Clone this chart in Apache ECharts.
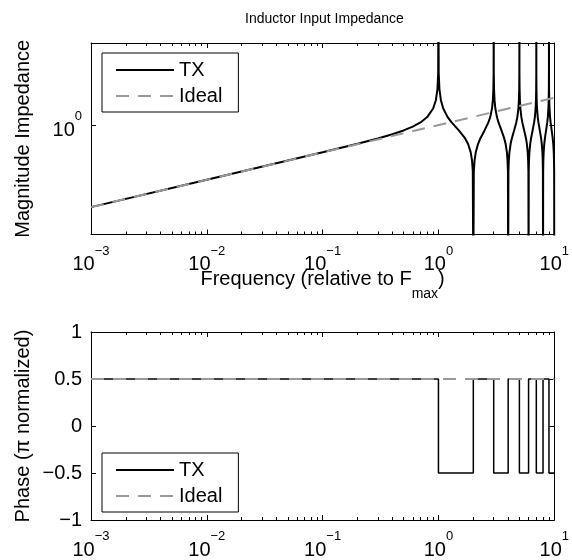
<!DOCTYPE html>
<html><head><meta charset="utf-8">
<script src="https://cdn.jsdelivr.net/npm/echarts@6/dist/echarts.min.js"></script>
<style>html,body{margin:0;padding:0;background:#fff}#c{width:572px;height:560px}</style>
</head><body><div id="c"></div>
<script>
// ---- data ----
const freqTX = [
  0.001, 0.01, 0.1, 0.2, 0.3, 0.4, 0.5, 0.6, 0.7, 0.8, 0.9, 0.95, 0.98, 0.995, 1,
  1.005, 1.02, 1.05, 1.1, 1.2, 1.3, 1.5, 1.7, 1.8, 1.9, 1.95, 1.98, 2,
  2.02, 2.05, 2.1, 2.2, 2.3, 2.5, 2.7, 2.8, 2.9, 2.95, 2.98, 2.995, 3,
  3.005, 3.02, 3.05, 3.1, 3.2, 3.3, 3.5, 3.7, 3.8, 3.9, 3.95, 3.98, 4,
  4.02, 4.05, 4.1, 4.2, 4.3, 4.5, 4.7, 4.8, 4.9, 4.95, 4.98, 4.995, 5,
  5.005, 5.02, 5.05, 5.1, 5.2, 5.3, 5.5, 5.7, 5.8, 5.9, 5.95, 5.98, 6,
  6.02, 6.05, 6.1, 6.2, 6.3, 6.5, 6.7, 6.8, 6.9, 6.95, 6.98, 6.995, 7,
  7.005, 7.02, 7.05, 7.1, 7.2, 7.3, 7.5, 7.7, 7.8, 7.9, 7.95, 7.98, 8,
  8.02, 8.05, 8.1, 8.2, 8.3, 8.5, 8.7, 8.8, 8.9, 8.95, 8.98, 8.995, 9,
  9.005, 9.02, 9.05, 9.1, 9.2, 9.3, 9.5, 9.7, 9.8, 9.9, 9.95, 9.98, 10
];
const magTX = [
  0.001, 0.01, 0.1008, 0.2069, 0.3244, 0.4625, 0.6366, 0.8762, 1.249, 1.959, 4.021, 8.09, 20.26, 81.05, 1e6,
  81.05, 20.26, 8.09, 4.021, 1.959, 1.249, 0.6366, 0.3244, 0.2069, 0.1008, 0.0501, 0.02, 1e-6,
  0.02, 0.0501, 0.1008, 0.2069, 0.3244, 0.6366, 1.249, 1.959, 4.021, 8.09, 20.26, 81.05, 1e6,
  81.05, 20.26, 8.09, 4.021, 1.959, 1.249, 0.6366, 0.3244, 0.2069, 0.1008, 0.0501, 0.02, 1e-6,
  0.02, 0.0501, 0.1008, 0.2069, 0.3244, 0.6366, 1.249, 1.959, 4.021, 8.09, 20.26, 81.05, 1e6,
  81.05, 20.26, 8.09, 4.021, 1.959, 1.249, 0.6366, 0.3244, 0.2069, 0.1008, 0.0501, 0.02, 1e-6,
  0.02, 0.0501, 0.1008, 0.2069, 0.3244, 0.6366, 1.249, 1.959, 4.021, 8.09, 20.26, 81.05, 1e6,
  81.05, 20.26, 8.09, 4.021, 1.959, 1.249, 0.6366, 0.3244, 0.2069, 0.1008, 0.0501, 0.02, 1e-6,
  0.02, 0.0501, 0.1008, 0.2069, 0.3244, 0.6366, 1.249, 1.959, 4.021, 8.09, 20.26, 81.05, 1e6,
  81.05, 20.26, 8.09, 4.021, 1.959, 1.249, 0.6366, 0.3244, 0.2069, 0.1008, 0.0501, 0.02, 1e-6
];
const freqIdeal = [0.001, 10];
const magIdeal = [0.001, 10];

const phaseFreq = [0.001, 1, 1, 2, 2, 3, 3, 4, 4, 5, 5, 6, 6, 7, 7, 8, 8, 9, 9, 10];
const phaseTX = [0.5, 0.5, -0.5, -0.5, 0.5, 0.5, -0.5, -0.5, 0.5, 0.5, -0.5, -0.5, 0.5, 0.5, -0.5, -0.5, 0.5, 0.5, -0.5, -0.5];
const phaseIdealFreq = [0.001, 10];
const phaseIdeal = [0.5, 0.5];

const xMajorTicks = [0.001, 0.01, 0.1, 1, 10];
const xMinorTicks = [0.002, 0.003, 0.004, 0.005, 0.006, 0.007, 0.008, 0.009,
  0.02, 0.03, 0.04, 0.05, 0.06, 0.07, 0.08, 0.09,
  0.2, 0.3, 0.4, 0.5, 0.6, 0.7, 0.8, 0.9,
  2, 3, 4, 5, 6, 7, 8, 9];
const magTicks = [1];
const magRange = [1e-4, 1e3];
const phaseRange = [-1, 1];

// ---- chart ----
const FONT = '"Liberation Sans", Arial, Helvetica, sans-serif';
const zip = (a, b) => a.map((v, i) => [v, b[i]]);
const lg = v => Math.log10(v);
const minus = s => String(s).replace('-', '\u2212');
const powLabel = v => '{b|10}{s|' + minus(Math.round(v)) + '}';
const powRich = {
  b: { fontSize: 20, lineHeight: 30, verticalAlign: 'bottom', fontFamily: FONT, color: '#000' },
  s: { fontSize: 13, lineHeight: 13, verticalAlign: 'top', fontFamily: FONT, color: '#000' }
};
const black = { color: '#000', width: 1 };
const noLine = { show: false, onZero: false };
const boxLine = { show: true, onZero: false, lineStyle: black };

function xAxesFor(g, withName) {
  const lo = lg(xMajorTicks[0]), hi = lg(xMajorTicks[xMajorTicks.length - 1]);
  const ov = { type: 'value', gridIndex: g, min: lo, max: hi, splitLine: { show: false } };
  return [
    { type: 'log', logBase: 10, gridIndex: g, min: xMajorTicks[0], max: xMajorTicks[xMajorTicks.length - 1], show: false,
      axisLine: noLine },
    Object.assign({}, ov, {
      position: 'bottom',
      axisLine: boxLine,
      axisTick: { show: true, inside: true, length: 5, customValues: xMajorTicks.map(lg), lineStyle: black },
      axisLabel: { show: true, customValues: xMajorTicks.map(lg), formatter: powLabel, rich: powRich, margin: 10 },
      name: withName ? '{m|Frequency (relative to F}{sub|max}{m|)}' : '',
      nameLocation: 'middle', nameGap: 35, nameMoveOverlap: false,
      nameTextStyle: {
        rich: {
          m: { fontSize: 20, lineHeight: 20, verticalAlign: 'top', fontFamily: FONT, color: '#000' },
          sub: { fontSize: 14, lineHeight: 50, verticalAlign: 'middle', fontFamily: FONT, color: '#000' }
        }
      }
    }),
    Object.assign({}, ov, {
      position: 'bottom', axisLine: noLine,
      axisTick: { show: true, inside: true, length: 3, customValues: xMinorTicks.map(lg), lineStyle: black },
      axisLabel: { show: false }
    }),
    Object.assign({}, ov, {
      position: 'top',
      axisLine: boxLine,
      axisTick: { show: true, inside: true, length: 5, customValues: xMajorTicks.map(lg), lineStyle: black },
      axisLabel: { show: false }
    }),
    Object.assign({}, ov, {
      position: 'top', axisLine: noLine,
      axisTick: { show: true, inside: true, length: 3, customValues: xMinorTicks.map(lg), lineStyle: black },
      axisLabel: { show: false }
    })
  ];
}

const legendBase = {
  orient: 'vertical', left: 102, itemWidth: 58, itemHeight: 14, itemGap: 6,
  padding: [7, 16, 6, 13], borderColor: '#000', borderWidth: 1, borderRadius: 0,
  backgroundColor: '#fff', data: ['TX', 'Ideal'], selectedMode: false,
  itemStyle: { opacity: 0, borderWidth: 0 },
  textStyle: { fontSize: 20, color: '#000', fontFamily: FONT }
};

const option = {
  animation: false,
  backgroundColor: '#fff',
  textStyle: { fontFamily: FONT },
  title: {
    text: 'Inductor Input Impedance', left: 324.5, top: 12, padding: 0, textAlign: 'center',
    textStyle: { fontSize: 14, fontWeight: 'normal', color: '#000', fontFamily: FONT }
  },
  legend: [
    Object.assign({}, legendBase, { top: 53 }),
    Object.assign({}, legendBase, { top: 453 })
  ],
  grid: [
    { left: 91, right: 14, top: 43, height: 191.5 },
    { left: 91, right: 14, top: 332, height: 191.5 }
  ],
  xAxis: xAxesFor(0, true).concat(xAxesFor(1, false)),
  yAxis: [
    { type: 'log', logBase: 10, gridIndex: 0, min: magRange[0], max: magRange[1], show: false, axisLine: noLine },
    {
      type: 'value', gridIndex: 0, min: lg(magRange[0]), max: lg(magRange[1]), position: 'left',
      splitLine: { show: false },
      axisLine: boxLine,
      axisTick: { show: true, inside: true, length: 5, customValues: magTicks.map(lg), lineStyle: black },
      axisLabel: { show: true, customValues: magTicks.map(lg), formatter: powLabel, rich: powRich, margin: 9 },
      name: 'Magnitude Impedance', nameLocation: 'middle', nameGap: 58, nameMoveOverlap: false,
      nameTextStyle: { fontSize: 20, color: '#000', fontFamily: FONT }
    },
    {
      type: 'value', gridIndex: 0, min: lg(magRange[0]), max: lg(magRange[1]), position: 'right',
      splitLine: { show: false },
      axisLine: boxLine,
      axisTick: { show: true, inside: true, length: 5, customValues: magTicks.map(lg), lineStyle: black },
      axisLabel: { show: false }
    },
    {
      type: 'value', gridIndex: 1, min: phaseRange[0], max: phaseRange[1], interval: 0.5, position: 'left',
      splitLine: { show: false },
      axisLine: boxLine,
      axisTick: { show: true, inside: true, length: 5, lineStyle: black },
      axisLabel: { show: true, margin: 9, fontSize: 20, color: '#000', fontFamily: FONT, formatter: v => minus(v) },
      name: 'Phase (\u03c0 normalized)', nameLocation: 'middle', nameGap: 58, nameMoveOverlap: false,
      nameTextStyle: { fontSize: 20, color: '#000', fontFamily: FONT }
    },
    {
      type: 'value', gridIndex: 1, min: phaseRange[0], max: phaseRange[1], interval: 0.5, position: 'right',
      splitLine: { show: false },
      axisLine: boxLine,
      axisTick: { show: true, inside: true, length: 5, lineStyle: black },
      axisLabel: { show: false }
    }
  ],
  series: [
    { name: 'TX', type: 'line', xAxisIndex: 0, yAxisIndex: 0, data: zip(freqTX, magTX), symbol: 'none',
      lineStyle: { color: '#000', width: 2 }, itemStyle: { color: '#000' }, clip: true, z: 2 },
    { name: 'Ideal', type: 'line', xAxisIndex: 0, yAxisIndex: 0, data: zip(freqIdeal, magIdeal), symbol: 'none',
      lineStyle: { color: '#999', width: 2, type: [13, 9] }, itemStyle: { color: '#999' }, clip: true, z: 3 },
    { name: 'TX', type: 'line', xAxisIndex: 5, yAxisIndex: 3, data: zip(phaseFreq, phaseTX), symbol: 'none',
      lineStyle: { color: '#000', width: 1.5 }, itemStyle: { color: '#000' }, clip: true, z: 2 },
    { name: 'Ideal', type: 'line', xAxisIndex: 5, yAxisIndex: 3, data: zip(phaseIdealFreq, phaseIdeal), symbol: 'none',
      lineStyle: { color: '#999', width: 2, type: [13, 9] }, itemStyle: { color: '#999' }, clip: true, z: 3 }
  ]
};

const chart = echarts.init(document.getElementById('c'), null, { renderer: 'canvas' });
chart.setOption(option);
</script>
</body></html>
